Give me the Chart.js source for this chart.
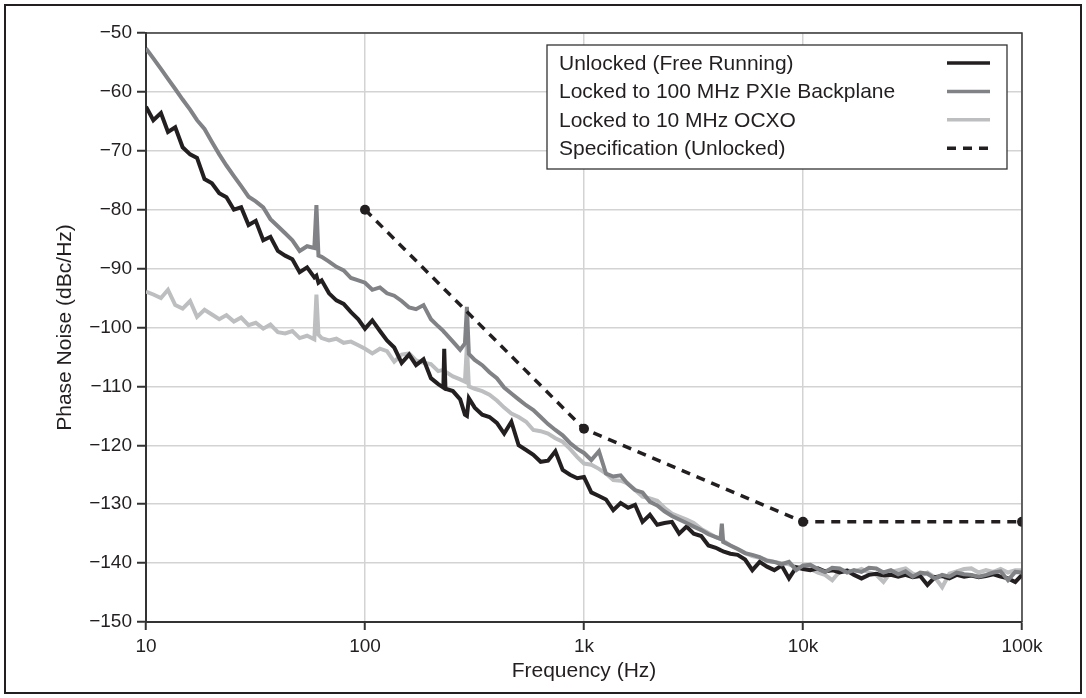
<!DOCTYPE html>
<html>
<head>
<meta charset="utf-8">
<script src="https://cdn.jsdelivr.net/npm/chart.js@4/dist/chart.umd.min.js"></script>
<style>
  html, body { margin: 0; padding: 0; background: #fff; }
  #wrap { position: relative; width: 1086px; height: 698px; }
</style>
</head>
<body>
<div id="wrap"><canvas id="graphique" width="1086" height="698"></canvas></div>
<script>
// Données (Hz / dBc/Hz)
const freq = [
  10, 10.8, 11.7, 12.6, 13.6, 14.7, 15.9, 17.1, 18.5, 20.0, 21.6, 23.3, 25.2, 27.2, 29.4, 31.7,
  34.3, 37.0, 40.0, 43.2, 46.6, 50.3, 54.4, 58.7, 60, 61.3, 63.4, 68.5, 74.0, 79.9, 86.3, 93.2,
  100, 108, 117, 126, 136, 147, 159, 171, 185, 200, 216, 228, 230, 233, 252, 272, 286,
  292, 298, 317, 343, 370, 400, 432, 466, 503, 544, 587, 634, 685, 740, 799, 863, 932,
  1000, 1080, 1170, 1260, 1360, 1470, 1590, 1710, 1850, 2000, 2160, 2330, 2520, 2720, 2940, 3170,
  3430, 3700, 4000, 4200, 4260, 4320, 4660, 5030, 5440, 5870, 6340, 6850, 7400, 7990, 8630, 9320,
  10000, 10800, 11700, 12600, 13600, 14700, 15900, 17100, 18500, 20000, 21600, 23300, 25200, 27200, 29400, 31700,
  34300, 37000, 40000, 43200, 46600, 50300, 54400, 58700, 63400, 68500, 74000, 79900, 86300, 93200, 100000
];

const unlocked = [
  -62.5, -64.8, -63.6, -66.8, -66.0, -69.4, -70.6, -71.2, -74.8, -75.5, -77.2, -77.9, -80.0, -79.6, -82.6, -81.9,
  -85.2, -84.6, -87.0, -87.8, -88.4, -90.6, -89.8, -91.5, -91.2, -92.4, -92.0, -94.2, -95.4, -96.0, -97.4, -98.6,
  -100.2, -98.8, -100.6, -102.2, -103.4, -106.0, -104.6, -106.4, -105.4, -108.6, -109.6, -110.2, -103.6, -110.4, -110.8, -112.2, -114.8,
  -115.0, -112.0, -113.6, -114.8, -115.2, -116.2, -118.0, -116.0, -120.0, -120.8, -121.6, -122.8, -122.6, -121.0, -124.2, -125.0, -125.6,
  -125.4, -128.0, -128.6, -129.2, -131.0, -129.8, -130.6, -130.1, -133.0, -131.8, -133.5, -133.2, -133.0, -135.0, -133.8, -135.0,
  -135.4, -137.0, -137.4, -137.8, -137.9, -138.0, -138.4, -138.6, -139.4, -141.2, -139.8, -140.6, -141.2, -140.4, -142.6, -140.7,
  -141.0, -141.2, -140.9, -141.4, -141.2, -141.6, -141.3, -142.0, -142.6, -142.0, -141.8, -142.1, -142.0, -142.3, -142.0, -142.4,
  -142.2, -143.7, -142.4, -142.2, -142.6, -142.0, -142.3, -142.1, -142.4, -142.2, -141.9, -142.3, -142.6, -143.2, -142.0
];

const backplane = [
  -52.6, -54.3, -56.1, -57.8, -59.5, -61.3, -63.0, -64.8, -66.3, -68.5, -70.6, -72.5, -74.3, -76.0, -77.8, -78.6,
  -79.6, -81.6, -82.8, -84.0, -85.2, -87.0, -86.2, -86.5, -79.2, -87.8, -88.0, -88.8, -89.7, -90.3, -91.6, -92.0,
  -92.4, -93.6, -93.2, -94.2, -94.6, -95.5, -96.6, -96.9, -96.2, -98.6, -99.8, -100.6, -100.8, -101.0, -102.4, -103.8, -102.7,
  -96.5, -104.5, -105.5, -106.4, -107.6, -108.6, -110.2, -111.2, -112.2, -113.2, -114.0, -115.2, -116.4, -117.4, -118.3, -119.6, -120.6,
  -121.3, -122.5, -121.0, -124.8, -125.3, -125.1, -126.6, -127.6, -128.0, -129.6, -130.2, -131.2, -132.0, -132.6, -133.2, -133.8,
  -134.4, -135.1, -135.6, -135.9, -133.3, -136.4, -137.0, -137.6, -138.3, -138.6, -139.0, -139.6, -139.8, -140.2, -139.8, -141.2,
  -140.4, -140.3, -141.0, -141.5, -140.8, -140.9, -141.6, -141.2, -141.5, -140.8, -140.9, -141.6, -141.2, -141.9, -141.4, -142.3,
  -141.6, -141.8, -142.6, -142.0, -142.3, -141.6, -141.9, -142.0, -142.3, -142.0, -141.6, -141.4, -142.9, -141.5, -141.6
];

const ocxo = [
  -93.9, -94.4, -95.0, -93.6, -96.2, -96.8, -95.5, -98.2, -97.0, -97.8, -98.6, -97.9, -99.0, -98.3, -99.6, -99.2,
  -100.2, -99.5, -100.8, -101.0, -100.6, -101.8, -101.4, -102.0, -94.4, -101.2, -101.8, -102.2, -101.9, -102.6, -102.4, -103.0,
  -103.6, -104.4, -103.6, -104.0, -105.8, -104.6, -104.4, -105.6, -106.0, -106.2, -107.4, -107.2, -107.3, -107.5, -108.3, -108.8, -109.2,
  -103.0, -110.0, -110.4, -110.8, -111.4, -112.4, -113.6, -114.6, -115.2, -116.0, -117.4, -117.6, -118.0, -118.8, -119.4, -120.6, -122.0,
  -123.1, -123.3, -124.0, -124.8, -125.9, -126.0, -126.5, -127.6, -128.7, -129.0, -129.4, -130.6, -131.6, -132.1, -132.6, -133.2,
  -134.2, -134.9, -135.6, -135.9, -136.0, -136.2, -137.0, -137.6, -138.3, -138.8, -139.1, -139.5, -139.8, -140.0, -140.2, -140.7,
  -140.6, -141.0, -141.6, -142.0, -142.9, -141.4, -141.2, -141.5, -141.0, -141.6, -142.0, -143.2, -141.5, -141.2, -140.9, -141.8,
  -142.2, -141.6, -142.4, -144.1, -141.8, -141.4, -141.0, -140.9, -141.6, -141.2, -141.5, -141.0, -141.6, -141.2, -141.2
];

const specFreq = [100, 1000, 10000, 100000];
const specNoise = [-80, -117.2, -133, -133];

const xTickValues = [10, 100, 1000, 10000, 100000];
const xTickLabels = ["10", "100", "1k", "10k", "100k"];

const seriesLabels = [
  "Unlocked (Free Running)",
  "Locked to 100 MHz PXIe Backplane",
  "Locked to 10 MHz OCXO",
  "Specification (Unlocked)"
];

const toPoints = (xs, ys) => xs.map((x, i) => ({ x: x, y: ys[i] }));

const TXT = "#231f20";
const sans = "'Liberation Sans', Arial, sans-serif";

// fond blanc + cadre extérieur + cadre du tracé
const cadre = {
  id: "cadre",
  beforeDraw(chart) {
    const ctx = chart.ctx;
    ctx.save();
    ctx.fillStyle = "#fff";
    ctx.fillRect(0, 0, chart.width, chart.height);
    ctx.strokeStyle = TXT;
    ctx.lineWidth = 2;
    ctx.strokeRect(5, 5, chart.width - 10, chart.height - 10);
    ctx.restore();
  },
  afterDraw(chart) {
    const a = chart.chartArea;
    const ctx = chart.ctx;
    ctx.save();
    ctx.strokeStyle = "#3a3a3a";
    ctx.lineWidth = 1.5;
    ctx.beginPath();
    ctx.moveTo(a.left, a.top);
    ctx.lineTo(a.right, a.top);
    ctx.lineTo(a.right, a.bottom);
    ctx.stroke();
    ctx.restore();
  }
};

// légende : texte à gauche, échantillon de trait à droite
const legende = {
  id: "legende",
  afterDatasetsDraw(chart) {
    const a = chart.chartArea;
    const ctx = chart.ctx;
    const w = 460, h = 124;
    const x0 = a.right - 15 - w, y0 = a.top + 12;
    ctx.save();
    ctx.fillStyle = "#fff";
    ctx.fillRect(x0, y0, w, h);
    ctx.strokeStyle = "#333";
    ctx.lineWidth = 1.3;
    ctx.strokeRect(x0, y0, w, h);
    ctx.font = "21px " + sans;
    ctx.textBaseline = "middle";
    ctx.fillStyle = TXT;
    chart.data.datasets.forEach((ds, i) => {
      const y = y0 + 18 + i * 28.4;
      ctx.fillText(ds.label, x0 + 12, y + 1);
      ctx.strokeStyle = ds.borderColor;
      ctx.lineWidth = 3.5;
      ctx.setLineDash(ds.borderDash || []);
      ctx.beginPath();
      ctx.moveTo(x0 + 400, y);
      ctx.lineTo(x0 + 443, y);
      ctx.stroke();
      ctx.setLineDash([]);
    });
    ctx.restore();
  }
};

new Chart(document.getElementById("graphique"), {
  type: "line",
  data: {
    datasets: [
      { label: seriesLabels[0], data: toPoints(freq, unlocked), borderColor: "#231f20", borderWidth: 4, pointRadius: 0, order: 2 },
      { label: seriesLabels[1], data: toPoints(freq, backplane), borderColor: "#808285", borderWidth: 4, pointRadius: 0, order: 1 },
      { label: seriesLabels[2], data: toPoints(freq, ocxo), borderColor: "#bcbec0", borderWidth: 4, pointRadius: 0, order: 3 },
      { label: seriesLabels[3], data: toPoints(specFreq, specNoise), borderColor: "#231f20", borderWidth: 3.5,
        borderDash: [9, 7], pointRadius: 5, pointBackgroundColor: "#231f20", pointBorderWidth: 0, order: 0 }
    ]
  },
  options: {
    responsive: false,
    animation: false,
    devicePixelRatio: 1,
    layout: { padding: { top: 33, right: 64, left: 0, bottom: 0 } },
    plugins: { legend: { display: false }, tooltip: { enabled: false } },
    elements: { line: { tension: 0, borderJoinStyle: "miter" } },
    scales: {
      x: {
        type: "logarithmic",
        min: 10,
        max: 100000,
        afterBuildTicks: s => { s.ticks = xTickValues.map(v => ({ value: v })); },
        afterFit: s => { s.height = 76; },
        grid: { color: "#d3d3d3", lineWidth: 1.5, tickColor: "#333", tickLength: 8, tickWidth: 2 },
        border: { color: "#333", width: 2 },
        ticks: {
          autoSkip: false, maxRotation: 0, padding: 5, color: TXT,
          font: { family: sans, size: 19 },
          callback: v => { const i = xTickValues.indexOf(v); return i >= 0 ? xTickLabels[i] : ""; }
        },
        title: { display: true, text: "Frequency (Hz)", color: TXT, font: { family: sans, size: 21 }, padding: { bottom: 14 } }
      },
      y: {
        min: -150,
        max: -50,
        afterFit: s => { s.width = 146; },
        grid: { color: "#d3d3d3", lineWidth: 1.5, tickColor: "#333", tickLength: 9, tickWidth: 2 },
        border: { color: "#333", width: 2 },
        ticks: {
          stepSize: 10, padding: 5, color: TXT,
          font: { family: sans, size: 19 },
          callback: v => String(v).replace("-", "\u2212")
        },
        title: { display: true, text: "Phase Noise (dBc/Hz)", color: TXT, font: { family: sans, size: 21 }, padding: { top: 53 } }
      }
    }
  },
  plugins: [cadre, legende]
});
</script>
</body>
</html>
